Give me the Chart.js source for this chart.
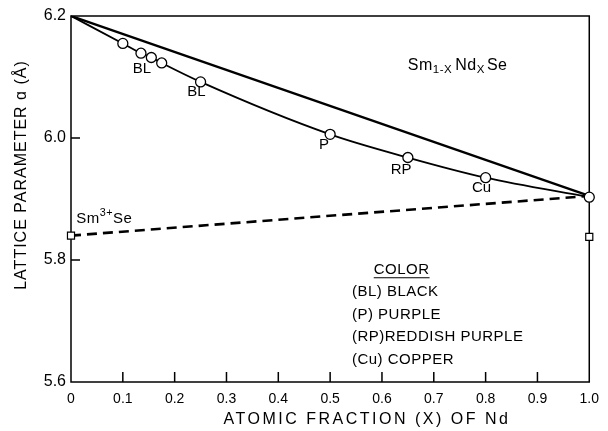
<!DOCTYPE html>
<html>
<head>
<meta charset="utf-8">
<script src="https://cdn.jsdelivr.net/npm/chart.js@4.4.1/dist/chart.umd.min.js"></script>
<style>
  body { margin: 0; background: #fff; }
</style>
</head>
<body>
<canvas id="myChart" width="608" height="431"></canvas>
<script>
// measured lattice parameter vs Nd fraction
var xNd = [0, 0.1, 0.135, 0.155, 0.175, 0.25, 0.5, 0.65, 0.8, 1.0]
var aMeasured = [6.2, 6.155, 6.139, 6.132, 6.123, 6.092, 6.006, 5.968, 5.935, 5.903]
var markerRadius = [0, 5, 5, 5, 5, 5, 5, 5, 5, 5]

// Vegard line between end members
var vegardX = [0, 1.0]
var vegardA = [6.2, 5.905]

// trivalent Sm line
var sm3X = [0, 1.0]
var sm3A = [5.84, 5.905]

// open squares
var squareX = [0, 1.0]
var squareA = [5.84, 5.838]

var xTicks = [0, 0.1, 0.2, 0.3, 0.4, 0.5, 0.6, 0.7, 0.8, 0.9, 1.0]
var yTicks = [5.6, 5.8, 6.0, 6.2]

// point labels [text, x, a]
var pointNotes = [
    ["BL", 0.137, 6.114],
    ["BL", 0.242, 6.076],
    ["P", 0.488, 5.989],
    ["RP", 0.637, 5.948],
    ["Cu", 0.792, 5.918]
]
var colorKey = [
    "(BL) BLACK",
    "(P) PURPLE",
    "(RP)REDDISH PURPLE",
    "(Cu) COPPER"
]

var FONT = "'Liberation Sans', Arial, sans-serif"

function pairs(xs, ys) {
    return xs.map(function(x, i) { return {x: x, y: ys[i]} })
}

// draw text with sub/superscript parts: [text, shift, gap]
function richText(ctx, parts, x, y, size) {
    var cx = x
    parts.forEach(function(p) {
        var s = p[1] === 0 ? size : size * 0.72
        ctx.font = s + "px " + FONT
        ctx.fillText(p[0], cx, y + p[1])
        cx += ctx.measureText(p[0]).width + (p[2] || 0)
    })
}

var decor = {
    id: 'decor',
    beforeDatasetsDraw: function(chart) {
        var ctx = chart.ctx
        var a = chart.chartArea
        var xs = chart.scales.x, ys = chart.scales.y
        ctx.save()
        ctx.strokeStyle = '#000'
        ctx.lineWidth = 1.5
        ctx.strokeRect(a.left, a.top, a.right - a.left, a.bottom - a.top)
        ctx.beginPath()
        xTicks.slice(1, -1).forEach(function(v) {
            var px = xs.getPixelForValue(v)
            ctx.moveTo(px, a.bottom)
            ctx.lineTo(px, a.bottom - 10)
        })
        yTicks.slice(1, -1).forEach(function(v) {
            var py = ys.getPixelForValue(v)
            ctx.moveTo(a.left, py)
            ctx.lineTo(a.left + 9, py)
        })
        ctx.stroke()
        ctx.restore()
    },
    afterDraw: function(chart) {
        var ctx = chart.ctx
        var xs = chart.scales.x, ys = chart.scales.y
        ctx.save()
        ctx.fillStyle = '#000'
        ctx.textBaseline = 'middle'
        ctx.textAlign = 'center'
        ctx.font = "15px " + FONT
        pointNotes.forEach(function(n) {
            ctx.fillText(n[0], xs.getPixelForValue(n[1]), ys.getPixelForValue(n[2]))
        })

        ctx.textAlign = 'left'
        ctx.letterSpacing = '0.5px'
        richText(ctx, [["Sm", 0], ["1-X", 4, 3], ["Nd", 0], ["X", 4, 2], ["Se", 0]],
            xs.getPixelForValue(0.65), ys.getPixelForValue(6.118), 16)
        richText(ctx, [["Sm", 0], ["3+", -5], ["Se", 0]],
            xs.getPixelForValue(0.01), ys.getPixelForValue(5.868), 15)

        // colour key
        ctx.font = "15px " + FONT
        ctx.textAlign = 'center'
        var cx = xs.getPixelForValue(0.638)
        var cy = ys.getPixelForValue(5.784)
        ctx.fillText("COLOR", cx, cy)
        var w = ctx.measureText("COLOR").width
        ctx.lineWidth = 1.2
        ctx.beginPath()
        ctx.moveTo(cx - w / 2, cy + 8)
        ctx.lineTo(cx + w / 2, cy + 8)
        ctx.stroke()
        ctx.textAlign = 'left'
        var kx = xs.getPixelForValue(0.542)
        var keyA = [5.748, 5.710, 5.674, 5.636]
        colorKey.forEach(function(t, i) {
            ctx.fillText(t, kx, ys.getPixelForValue(keyA[i]))
        })

        // axis titles
        ctx.textAlign = 'center'
        ctx.font = "16px " + FONT
        ctx.letterSpacing = '2.5px'
        ctx.fillText("ATOMIC FRACTION (X) OF Nd", 367, 420)
        ctx.letterSpacing = '1px'
        ctx.translate(22, 175)
        ctx.rotate(-Math.PI / 2)
        ctx.fillText("LATTICE PARAMETER \u0251 (\u00C5)", 0, 0)
        ctx.restore()
    }
}

ctx = document.getElementById("myChart")
var latticeChart = new Chart(ctx, {
    type: 'scatter',
    data: {
        datasets: [
            {
                data: pairs(xNd, aMeasured),
                showLine: true,
                borderColor: '#000',
                borderWidth: 1.8,
                cubicInterpolationMode: 'monotone',
                pointRadius: markerRadius,
                pointBackgroundColor: '#fff',
                pointBorderColor: '#000',
                pointBorderWidth: 1.3,
                clip: false,
                order: 0
            },
            {
                data: pairs(vegardX, vegardA),
                showLine: true,
                borderColor: '#000',
                borderWidth: 2.4,
                pointRadius: 0,
                order: 2
            },
            {
                data: pairs(sm3X, sm3A),
                showLine: true,
                borderColor: '#000',
                borderWidth: 2.6,
                borderDash: [10, 6],
                pointRadius: 0,
                order: 2
            },
            {
                data: pairs(squareX, squareA),
                showLine: false,
                pointStyle: 'rect',
                pointRadius: 5,
                pointBackgroundColor: '#fff',
                pointBorderColor: '#000',
                pointBorderWidth: 1.2,
                clip: false,
                order: 0
            }
        ]
    },
    options: {
        responsive: false,
        animation: false,
        events: [],
        layout: {padding: {top: 16, right: 17, left: 0, bottom: 0}},
        plugins: {legend: {display: false}, tooltip: {enabled: false}},
        scales: {
            x: {
                type: 'linear',
                min: 0, max: 1.0,
                afterFit: function(s) { s.height = 49 },
                afterBuildTicks: function(s) { s.ticks = xTicks.map(function(v) { return {value: v} }) },
                grid: {display: false, drawTicks: false},
                border: {display: false},
                ticks: {
                    color: '#000',
                    padding: 9,
                    font: {family: FONT, size: 14},
                    callback: function(v) { return v === 0 ? '0' : v.toFixed(1) }
                }
            },
            y: {
                min: 5.6, max: 6.2,
                afterFit: function(s) { s.width = 71 },
                afterBuildTicks: function(s) { s.ticks = yTicks.map(function(v) { return {value: v} }) },
                grid: {display: false, drawTicks: false},
                border: {display: false},
                ticks: {
                    color: '#000',
                    padding: 5,
                    font: {family: FONT, size: 16},
                    callback: function(v) { return v.toFixed(1) }
                }
            }
        }
    },
    plugins: [decor]
});
</script>
</body>
</html>
